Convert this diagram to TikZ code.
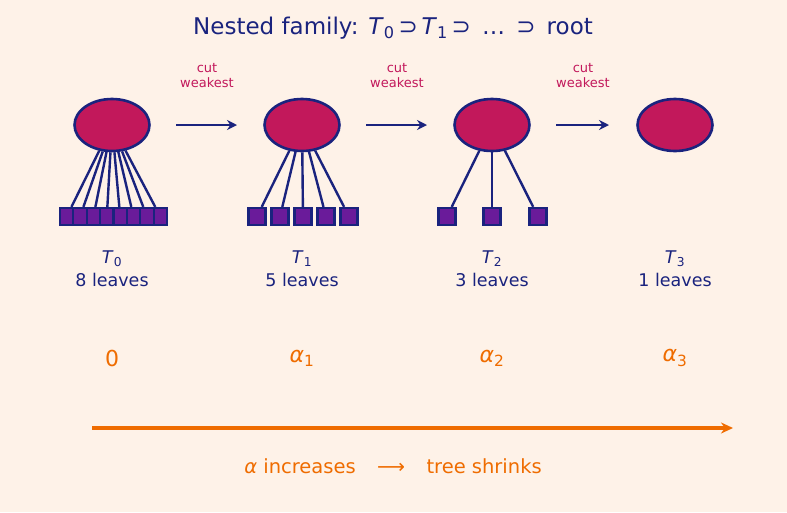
\documentclass[tikz,border=0pt]{standalone}
\usepackage{fontspec}
\setmainfont{DejaVu Sans}
\usetikzlibrary{arrows.meta,shapes.geometric}
\definecolor{bg}{HTML}{FEF2E8}
\definecolor{navy}{HTML}{1A237E}
\definecolor{crim}{HTML}{C2185B}
\definecolor{leafc}{HTML}{6A1B9A}
\definecolor{orng}{HTML}{EF6C00}
\newcommand{\Tsub}[1]{\textit{T}\textsubscript{#1}}
\newcommand{\Asub}[1]{\textit{α}\textsubscript{#1}}
\begin{document}
\begin{tikzpicture}[x=1pt,y=-1pt,
  rootnode/.style={ellipse, draw=navy, fill=crim, line width=2.6pt, minimum width=75pt, minimum height=52pt, inner sep=0pt},
  leafbox/.style={rectangle, draw=navy, fill=leafc, line width=2.2pt, minimum size=17pt, inner sep=0pt},
  smallleaf/.style={leafbox, minimum width=13.4pt, minimum height=17pt},
  branch/.style={draw=navy, line width=2.4pt},
  cutarrow/.style={draw=navy, line width=2.6pt, -{Stealth[length=10pt,width=10pt]}},
  cutlabel/.style={text=crim, font=\fontsize{13}{15.5}\selectfont, align=center},
  treelabel/.style={text=navy, font=\fontsize{17.5}{20}\selectfont},
  alphalabel/.style={text=orng, font=\fontsize{22}{24}\selectfont}]
\fill[bg] (0,0) rectangle (787,512);
\useasboundingbox (0,0) rectangle (787,512);

\node[text=navy, font=\fontsize{23}{27}\selectfont] (title) at (393,28)
  {Nested family: \Tsub{0}\,⊃\,\Tsub{1}\,⊃\, … \,⊃ \,root};

% roots
\node[rootnode] (r0) at (112,125) {};
\node[rootnode] (r1) at (302,125) {};
\node[rootnode] (r2) at (492,125) {};
\node[rootnode] (r3) at (675,125) {};

% T0 leaves
\foreach \i in {1,...,8} {
  \node[smallleaf] (l0\i) at ({60+13.375*(\i-0.5)},216.5) {};
  \draw[branch] (r0) -- (l0\i);
}
% T1 leaves
\foreach \i [count=\k] in {257,280,303,326,349} {
  \node[leafbox] (l1\k) at (\i,216.5) {};
  \draw[branch] (r1) -- (l1\k);
}
% T2 leaves
\foreach \i [count=\k] in {447,492,538} {
  \node[leafbox] (l2\k) at (\i,216.5) {};
  \draw[branch] (r2) -- (l2\k);
}

% cut arrows
\coordinate (a0s) at (176,125); \coordinate (a0e) at (237,125);
\coordinate (a1s) at (366,125); \coordinate (a1e) at (427,125);
\coordinate (a2s) at (556,125); \coordinate (a2e) at (609,125);
\draw[cutarrow] (a0s) -- (a0e);
\draw[cutarrow] (a1s) -- (a1e);
\draw[cutarrow] (a2s) -- (a2e);
\node[cutlabel] (c0) at (207,75.5) {cut\\weakest};
\node[cutlabel] (c1) at (397,75.5) {cut\\weakest};
\node[cutlabel] (c2) at (583,75.5) {cut\\weakest};

% tree labels
\node[treelabel] (t0) at (112,259) {\Tsub{0}};
\node[treelabel] (n0) at (112,280) {8 leaves};
\node[treelabel] (t1) at (302,259) {\Tsub{1}};
\node[treelabel] (n1) at (302,280) {5 leaves};
\node[treelabel] (t2) at (492,259) {\Tsub{2}};
\node[treelabel] (n2) at (492,280) {3 leaves};
\node[treelabel] (t3) at (675,259) {\Tsub{3}};
\node[treelabel] (n3) at (675,280) {1 leaves};

% alpha labels
\node[alphalabel] (al0) at (112,358) {0};
\node[alphalabel] (al1) at (302,358) {\Asub{1}};
\node[alphalabel] (al2) at (492,358) {\Asub{2}};
\node[alphalabel] (al3) at (675,358) {\Asub{3}};

% bottom arrow
\coordinate (bs) at (92,428); \coordinate (be) at (733,428);
\draw[draw=orng, line width=3.4pt, -{Stealth[length=12pt,width=11pt]}] (bs) -- (be);
\node[text=orng, font=\fontsize{19.5}{22}\selectfont] (cap) at (393,466)
  {\textit{α} increases\hspace{1.1em}⟶\hspace{1.1em}tree shrinks};
\end{tikzpicture}
\end{document}
